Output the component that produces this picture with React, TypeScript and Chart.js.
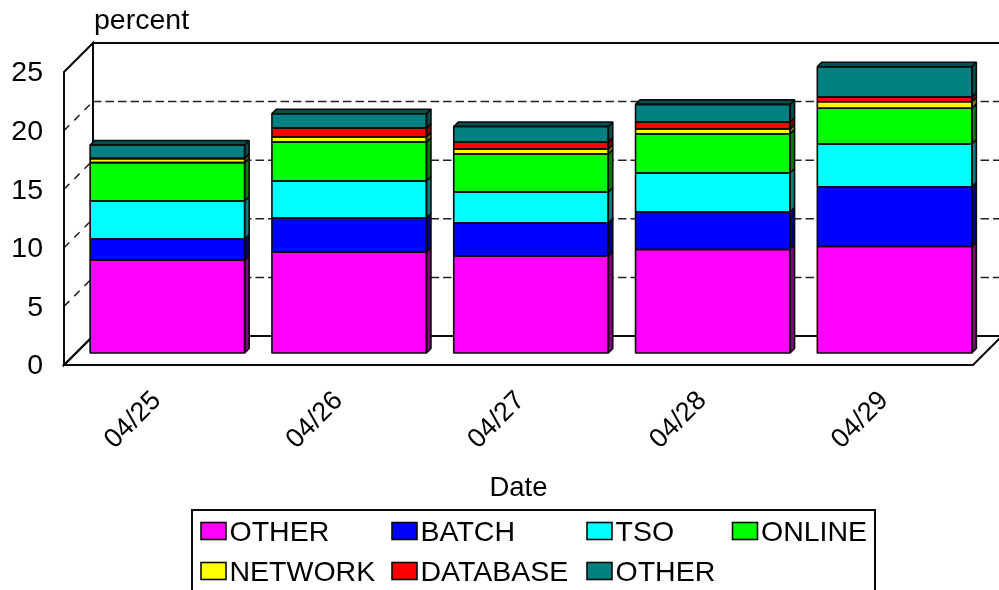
import React, { useEffect, useRef } from "react";
import { Chart, registerables } from "chart.js";

Chart.register(...registerables);

const categories = ["04/25", "04/26", "04/27", "04/28", "04/29"];
const seriesNames = ["OTHER", "BATCH", "TSO", "ONLINE", "NETWORK", "DATABASE", "OTHER"];
const otherBase = [7.93, 8.62, 8.28, 8.83, 9.09];
const batch = [1.8, 2.9, 2.81, 3.2, 5.1];
const tso = [3.24, 3.16, 2.65, 3.33, 3.64];
const online = [3.27, 3.32, 3.24, 3.33, 3.05];
const network = [0.34, 0.43, 0.42, 0.42, 0.56];
const database = [0.04, 0.77, 0.6, 0.6, 0.4];
const otherTop = [1.13, 1.22, 1.32, 1.5, 2.59];
const faceColors = ["#ff00ff", "#0000ff", "#00ffff", "#00ff00", "#ffff00", "#ff0000", "#008080"];
const sideColors = ["#800080", "#000080", "#008080", "#008000", "#808000", "#800000", "#005050"];
const FONT = "Liberation Sans";
const TEXT = 28.5;
const INK = "#0a0a0a";

const WALL = 29;
const BAR_X = 12.5;
const BAR_Y = 12;
const BAR_D = 4.5;

const poly = (ctx: CanvasRenderingContext2D, pts: number[][], fill: string | null) => {
  ctx.beginPath();
  pts.forEach((p, i) => (i ? ctx.lineTo(p[0], p[1]) : ctx.moveTo(p[0], p[1])));
  ctx.closePath();
  if (fill) {
    ctx.fillStyle = fill;
    ctx.fill();
  }
  ctx.stroke();
};

const box3d = {
  id: "box3d",
  beforeDatasetsDraw(chart: any) {
    const { ctx, chartArea: a, scales } = chart;
    const y = scales.y;
    ctx.save();
    ctx.strokeStyle = "#222";
    ctx.lineWidth = 1.5;
    [5, 10, 15, 20].forEach((v) => {
      const py = y.getPixelForValue(v);
      ctx.setLineDash([7.5, 7]);
      ctx.beginPath();
      ctx.moveTo(a.left, py);
      ctx.lineTo(a.left + WALL, py - WALL);
      ctx.stroke();
      ctx.setLineDash([8.5, 4]);
      ctx.beginPath();
      ctx.moveTo(a.left + WALL, py - WALL);
      ctx.lineTo(a.right + WALL, py - WALL);
      ctx.stroke();
    });
    ctx.setLineDash([]);
    ctx.strokeStyle = INK;
    ctx.lineWidth = 2;
    poly(ctx, [[a.left, a.bottom], [a.left, a.top], [a.left + WALL, a.top - WALL], [a.left + WALL, a.bottom - WALL]], null);
    poly(ctx, [[a.left + WALL, a.bottom - WALL], [a.left + WALL, a.top - WALL], [a.right + WALL, a.top - WALL], [a.right + WALL, a.bottom - WALL]], null);
    poly(ctx, [[a.left, a.bottom], [a.right, a.bottom], [a.right + WALL, a.bottom - WALL], [a.left + WALL, a.bottom - WALL]], null);
    ctx.restore();
    ctx.save();
    ctx.translate(BAR_X, -BAR_Y);
  },
  afterDatasetsDraw(chart: any) {
    const { ctx, data } = chart;
    ctx.strokeStyle = INK;
    ctx.lineWidth = 1.6;
    ctx.lineJoin = "bevel";
    const last = data.datasets.length - 1;
    data.datasets.forEach((_: any, di: number) => {
      chart.getDatasetMeta(di).data.forEach((bar: any) => {
        const { x, y, base, width } = bar.getProps(["x", "y", "base", "width"], true);
        const l = x - width / 2;
        const r = x + width / 2;
        poly(ctx, [[r, base], [r + BAR_D, base - BAR_D], [r + BAR_D, y - BAR_D], [r, y]], sideColors[di]);
        if (di === last) {
          poly(ctx, [[l, y], [l + BAR_D, y - BAR_D], [r + BAR_D, y - BAR_D], [r, y]], sideColors[di]);
        }
        poly(ctx, [[l, base], [l, y], [r, y], [r, base]], null);
      });
    });
    ctx.restore();
  },
  afterDraw(chart: any) {
    const { ctx, data } = chart;
    ctx.save();
    ctx.fillStyle = "#000";
    ctx.font = `${TEXT}px "${FONT}"`;
    ctx.textAlign = "left";
    ctx.textBaseline = "middle";
    ctx.fillText("percent", 94, 21);
    ctx.strokeStyle = INK;
    ctx.lineWidth = 2;
    ctx.fillStyle = "#fff";
    ctx.fillRect(192, 510, 683, 82);
    ctx.strokeRect(192, 510, 683, 82);
    ctx.lineWidth = 1.6;
    const colX = [201, 392, 587, 732.5];
    const rowY = [531, 571];
    data.datasets.forEach((d: any, i: number) => {
      const x = colX[i % 4];
      const yy = rowY[Math.floor(i / 4)];
      ctx.fillStyle = d.backgroundColor;
      ctx.fillRect(x, yy - 8.5, 25, 17);
      ctx.strokeRect(x, yy - 8.5, 25, 17);
      ctx.fillStyle = "#000";
      ctx.fillText(d.label, x + 28.5, yy + 2);
    });
    ctx.restore();
  },
};

export default function App() {
  const ref = useRef<HTMLCanvasElement>(null);
  useEffect(() => {
    const values = [otherBase, batch, tso, online, network, database, otherTop];
    const chart = new Chart(ref.current!, {
      type: "bar",
      data: {
        labels: categories,
        datasets: seriesNames.map((label, i) => ({
          label,
          data: values[i],
          backgroundColor: faceColors[i],
          borderWidth: 0,
          categoryPercentage: 1,
          barPercentage: 0.85,
          clip: false as any,
        })),
      },
      options: {
        responsive: false,
        animation: false,
        layout: { padding: { top: 72, right: 26, left: 0, bottom: 0 } },
        plugins: { legend: { display: false }, tooltip: { enabled: false } },
        scales: {
          x: {
            stacked: true,
            grid: { display: false },
            border: { display: false },
            afterFit: (s: any) => { s.height = 225; },
            ticks: {
              minRotation: 45,
              maxRotation: 45,
              color: "#000",
              labelOffset: 2,
              padding: 12,
              font: { family: FONT, size: 27 },
            },
            title: {
              display: true,
              text: "Date",
              color: "#000",
              font: { family: FONT, size: 27.5 },
              padding: { top: 0, bottom: 85 },
            },
          },
          y: {
            stacked: true,
            min: 0,
            max: 25,
            grid: { display: false },
            border: { display: false },
            afterFit: (s: any) => { s.width = 64; },
            ticks: {
              stepSize: 5,
              color: "#000",
              padding: 13,
              labelOffset: 1.5,
              font: { family: FONT, size: TEXT },
            },
          },
        },
      },
      plugins: [box3d],
    });
    return () => chart.destroy();
  }, []);
  return (
    <div style={{ position: "absolute", left: 0, top: 0, width: 999, height: 590, overflow: "hidden", background: "#fff" }}>
      <canvas ref={ref} width={999} height={590} style={{ display: "block" }} />
    </div>
  );
}
